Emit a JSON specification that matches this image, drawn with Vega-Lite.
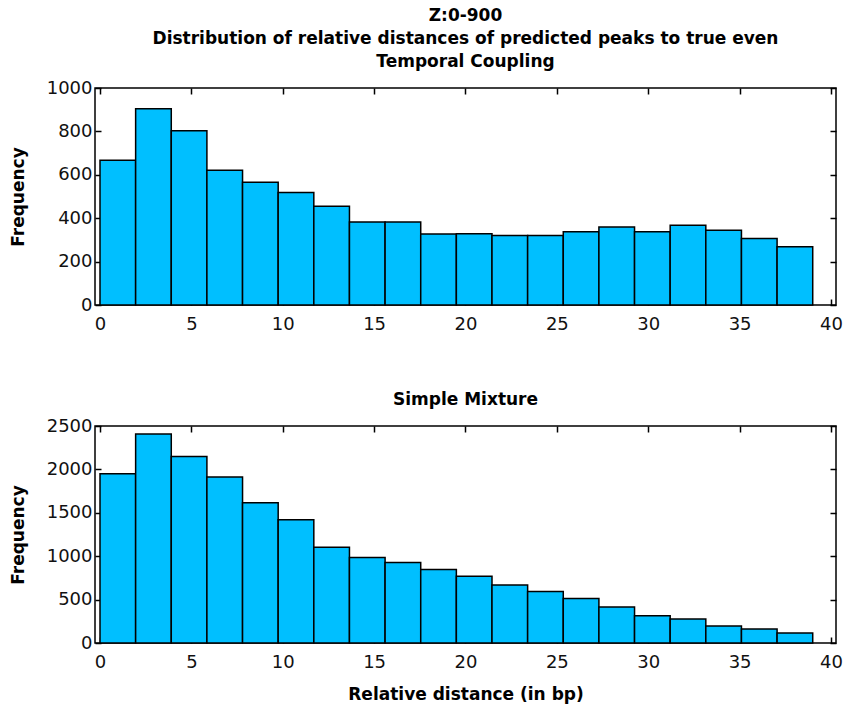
{
  "$schema": "https://vega.github.io/schema/vega-lite/v6.json",
  "background": "white",
  "padding": {"left": 8, "top": 6, "right": 10, "bottom": 5},
  "datasets": {
    "hist": [
      {"panel": "temporal", "bin_start": 0, "bin_end": 1.95, "count": 667},
      {"panel": "temporal", "bin_start": 1.95, "bin_end": 3.9, "count": 904},
      {"panel": "temporal", "bin_start": 3.9, "bin_end": 5.85, "count": 803},
      {"panel": "temporal", "bin_start": 5.85, "bin_end": 7.8, "count": 621},
      {"panel": "temporal", "bin_start": 7.8, "bin_end": 9.75, "count": 566},
      {"panel": "temporal", "bin_start": 9.75, "bin_end": 11.7, "count": 518},
      {"panel": "temporal", "bin_start": 11.7, "bin_end": 13.65, "count": 455},
      {"panel": "temporal", "bin_start": 13.65, "bin_end": 15.6, "count": 383},
      {"panel": "temporal", "bin_start": 15.6, "bin_end": 17.55, "count": 383},
      {"panel": "temporal", "bin_start": 17.55, "bin_end": 19.5, "count": 327},
      {"panel": "temporal", "bin_start": 19.5, "bin_end": 21.45, "count": 328},
      {"panel": "temporal", "bin_start": 21.45, "bin_end": 23.4, "count": 320},
      {"panel": "temporal", "bin_start": 23.4, "bin_end": 25.35, "count": 320},
      {"panel": "temporal", "bin_start": 25.35, "bin_end": 27.3, "count": 337},
      {"panel": "temporal", "bin_start": 27.3, "bin_end": 29.25, "count": 360},
      {"panel": "temporal", "bin_start": 29.25, "bin_end": 31.2, "count": 337},
      {"panel": "temporal", "bin_start": 31.2, "bin_end": 33.15, "count": 368},
      {"panel": "temporal", "bin_start": 33.15, "bin_end": 35.1, "count": 345},
      {"panel": "temporal", "bin_start": 35.1, "bin_end": 37.05, "count": 306},
      {"panel": "temporal", "bin_start": 37.05, "bin_end": 39, "count": 268},
      {"panel": "mixture", "bin_start": 0, "bin_end": 1.95, "count": 1950},
      {"panel": "mixture", "bin_start": 1.95, "bin_end": 3.9, "count": 2408},
      {"panel": "mixture", "bin_start": 3.9, "bin_end": 5.85, "count": 2150},
      {"panel": "mixture", "bin_start": 5.85, "bin_end": 7.8, "count": 1912},
      {"panel": "mixture", "bin_start": 7.8, "bin_end": 9.75, "count": 1615},
      {"panel": "mixture", "bin_start": 9.75, "bin_end": 11.7, "count": 1419},
      {"panel": "mixture", "bin_start": 11.7, "bin_end": 13.65, "count": 1104},
      {"panel": "mixture", "bin_start": 13.65, "bin_end": 15.6, "count": 985},
      {"panel": "mixture", "bin_start": 15.6, "bin_end": 17.55, "count": 927},
      {"panel": "mixture", "bin_start": 17.55, "bin_end": 19.5, "count": 846},
      {"panel": "mixture", "bin_start": 19.5, "bin_end": 21.45, "count": 769},
      {"panel": "mixture", "bin_start": 21.45, "bin_end": 23.4, "count": 669},
      {"panel": "mixture", "bin_start": 23.4, "bin_end": 25.35, "count": 592},
      {"panel": "mixture", "bin_start": 25.35, "bin_end": 27.3, "count": 512},
      {"panel": "mixture", "bin_start": 27.3, "bin_end": 29.25, "count": 415},
      {"panel": "mixture", "bin_start": 29.25, "bin_end": 31.2, "count": 315},
      {"panel": "mixture", "bin_start": 31.2, "bin_end": 33.15, "count": 277},
      {"panel": "mixture", "bin_start": 33.15, "bin_end": 35.1, "count": 196},
      {"panel": "mixture", "bin_start": 35.1, "bin_end": 37.05, "count": 162},
      {"panel": "mixture", "bin_start": 37.05, "bin_end": 39, "count": 115}
    ]
  },
  "data": {"name": "hist"},
  "spacing": 56,
  "config": {
    "view": {"stroke": "black", "strokeWidth": 1.5},
    "axis": {
      "domain": false,
      "grid": false,
      "ticks": true,
      "tickColor": "black",
      "tickWidth": 1.5,
      "tickSize": -6,
      "format": "d",
      "labelFont": "DejaVu Sans",
      "labelFontSize": 18,
      "labelColor": "#111111",
      "titleFont": "DejaVu Sans",
      "titleFontSize": 17,
      "titleFontWeight": "bold",
      "titleColor": "black"
    },
    "title": {
      "font": "DejaVu Sans",
      "fontSize": 17,
      "fontWeight": "bold",
      "color": "black",
      "anchor": "middle",
      "lineHeight": 23,
      "offset": 8
    }
  },
  "vconcat": [
    {
      "title": {
        "text": [
          "Z:0-900",
          "Distribution of relative distances of predicted peaks to true even",
          "Temporal Coupling"
        ]
      },
      "width": 741,
      "height": 217,
      "transform": [{"filter": "datum.panel == 'temporal'"}],
      "resolve": {"axis": {"x": "independent", "y": "independent"}},
      "layer": [
        {
          "mark": {"type": "bar", "orient": "vertical", "fill": "#00BFFF", "stroke": "black", "strokeWidth": 1.5},
          "encoding": {
            "x": {
              "field": "bin_start", "type": "quantitative",
              "scale": {"domain": [0, 40], "nice": false, "zero": false},
              "axis": {"orient": "bottom", "values": [0, 5, 10, 15, 20, 25, 30, 35, 40], "title": null, "labelPadding": 16, "labelFlush": false}
            },
            "x2": {"field": "bin_end"},
            "y": {
              "field": "count", "type": "quantitative",
              "scale": {"domain": [0, 1000], "nice": false},
              "axis": {"orient": "left", "values": [0, 200, 400, 600, 800, 1000], "title": "Frequency", "labelPadding": 9, "titlePadding": 19}
            }
          }
        },
        {
          "mark": {"type": "bar", "orient": "vertical", "opacity": 0},
          "encoding": {
            "x": {
              "field": "bin_start", "type": "quantitative",
              "axis": {"orient": "top", "values": [0, 5, 10, 15, 20, 25, 30, 35, 40], "labels": false, "title": null}
            },
            "x2": {"field": "bin_end"},
            "y": {
              "field": "count", "type": "quantitative",
              "axis": {"orient": "right", "values": [0, 200, 400, 600, 800, 1000], "labels": false, "title": null}
            }
          }
        }
      ]
    },
    {
      "title": {"text": "Simple Mixture"},
      "width": 741,
      "height": 217,
      "transform": [{"filter": "datum.panel == 'mixture'"}],
      "resolve": {"axis": {"x": "independent", "y": "independent"}},
      "layer": [
        {
          "mark": {"type": "bar", "orient": "vertical", "fill": "#00BFFF", "stroke": "black", "strokeWidth": 1.5},
          "encoding": {
            "x": {
              "field": "bin_start", "type": "quantitative",
              "scale": {"domain": [0, 40], "nice": false, "zero": false},
              "axis": {"orient": "bottom", "values": [0, 5, 10, 15, 20, 25, 30, 35, 40], "title": "Relative distance (in bp)", "labelPadding": 16, "labelFlush": false, "titlePadding": 15}
            },
            "x2": {"field": "bin_end"},
            "y": {
              "field": "count", "type": "quantitative",
              "scale": {"domain": [0, 2500], "nice": false},
              "axis": {"orient": "left", "values": [0, 500, 1000, 1500, 2000, 2500], "title": "Frequency", "labelPadding": 9, "titlePadding": 19}
            }
          }
        },
        {
          "mark": {"type": "bar", "orient": "vertical", "opacity": 0},
          "encoding": {
            "x": {
              "field": "bin_start", "type": "quantitative",
              "axis": {"orient": "top", "values": [0, 5, 10, 15, 20, 25, 30, 35, 40], "labels": false, "title": null}
            },
            "x2": {"field": "bin_end"},
            "y": {
              "field": "count", "type": "quantitative",
              "axis": {"orient": "right", "values": [0, 500, 1000, 1500, 2000, 2500], "labels": false, "title": null}
            }
          }
        }
      ]
    }
  ]
}
